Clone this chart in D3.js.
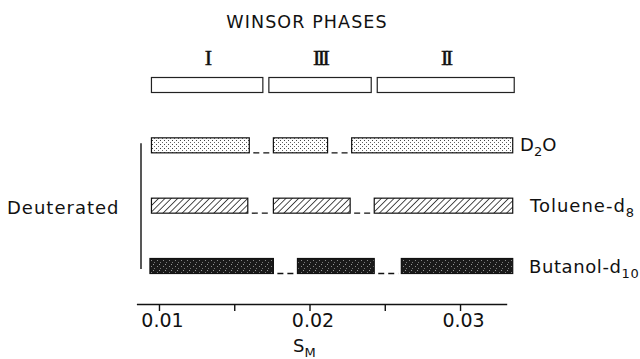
<!DOCTYPE html>
<html>
<head>
<meta charset="utf-8">
<script src="https://cdn.jsdelivr.net/npm/d3@7"></script>
<style>
  body { margin: 0; background: #fff; }
  text { font-family: "DejaVu Sans", sans-serif; fill: #111; }
</style>
</head>
<body>
<svg id="chart"></svg>
<script>
const w = 640;
const h = 359;

// phase boxes (S_M ranges)
const phaseNames = ["I", "III", "II"];
const phaseStart = [0.0095, 0.0173, 0.0245];
const phaseEnd = [0.0169, 0.0241, 0.0336];

// deuterated components and their segments
const rows = ["D2O", "Toluene", "Butanol"];
const d2oSegments = [[0.0095, 0.0160], [0.0176, 0.0212], [0.0228, 0.0335]];
const tolueneSegments = [[0.0095, 0.0159], [0.0176, 0.0227], [0.0243, 0.0335]];
const butanolSegments = [[0.0094, 0.0176], [0.0192, 0.0243], [0.0261, 0.0335]];

const tickValues = [0.01, 0.015, 0.02, 0.025, 0.03];
const tickLabels = ["0.01", "", "0.02", "", "0.03"];

var chart = d3.select("#chart")
  .attr("width", w)
  .attr("height", h);

var defs = chart.append("defs");

// stipple for D2O
var dots = defs.append("pattern")
  .attr("id", "dots")
  .attr("patternUnits", "userSpaceOnUse")
  .attr("width", 4).attr("height", 4);
dots.append("rect").attr("width", 4).attr("height", 4).attr("fill", "#fff");
dots.append("rect").attr("x", 0).attr("y", 0).attr("width", 1).attr("height", 1).attr("fill", "#444");
dots.append("rect").attr("x", 2).attr("y", 2).attr("width", 1).attr("height", 1).attr("fill", "#666");

// hatching for toluene
var hatch = defs.append("pattern")
  .attr("id", "hatch")
  .attr("patternUnits", "userSpaceOnUse")
  .attr("width", 4.5).attr("height", 4.5)
  .attr("patternTransform", "rotate(45)");
hatch.append("rect").attr("width", 4.5).attr("height", 4.5).attr("fill", "#fff");
hatch.append("line")
  .attr("x1", 0).attr("y1", 0).attr("x2", 0).attr("y2", 4.5)
  .attr("stroke", "#222").attr("stroke-width", 1.6);

// dark stipple for butanol
var dark = defs.append("pattern")
  .attr("id", "dark")
  .attr("patternUnits", "userSpaceOnUse")
  .attr("width", 6).attr("height", 6);
dark.append("rect").attr("width", 6).attr("height", 6).attr("fill", "#1a1a1a");
dark.append("rect").attr("x", 1).attr("y", 2).attr("width", 1).attr("height", 1).attr("fill", "#888");
dark.append("rect").attr("x", 4).attr("y", 4).attr("width", 1).attr("height", 1).attr("fill", "#777");
dark.append("rect").attr("x", 3).attr("y", 0).attr("width", 1).attr("height", 1).attr("fill", "#999");

const fills = { D2O: "url(#dots)", Toluene: "url(#hatch)", Butanol: "url(#dark)" };
const segments = { D2O: d2oSegments, Toluene: tolueneSegments, Butanol: butanolSegments };

const xScale = d3.scaleLinear()
  .domain([0.0085, 0.0331])
  .range([136.4, 506.7]);

const yScale = d3.scalePoint()
  .domain(["phases"].concat(rows))
  .range([85, 266]);

const barH = 15;

// title
chart.append("text")
  .attr("x", 307).attr("y", 28)
  .attr("text-anchor", "middle")
  .style("font-size", "17.5px")
  .style("letter-spacing", "1.1px")
  .text("WINSOR PHASES");

// phase boxes
phaseNames.forEach(function(name, i) {
  chart.append("rect")
    .attr("x", xScale(phaseStart[i]))
    .attr("y", yScale("phases") - barH / 2)
    .attr("width", xScale(phaseEnd[i]) - xScale(phaseStart[i]))
    .attr("height", barH)
    .attr("fill", "#fff")
    .attr("stroke", "#222")
    .attr("stroke-width", 1.2);

  chart.append("text")
    .attr("x", (xScale(phaseStart[i]) + xScale(phaseEnd[i])) / 2)
    .attr("y", 65)
    .attr("text-anchor", "middle")
    .style("font-family", "'Liberation Serif', serif")
    .style("font-size", "22px")
    .style("letter-spacing", "-2.6px")
    .style("stroke", "#111")
    .style("stroke-width", "0.5px")
    .text(name);
});

// component rows
rows.forEach(function(r) {
  var segs = segments[r];
  var yc = yScale(r);
  segs.forEach(function(s, i) {
    chart.append("rect")
      .attr("x", xScale(s[0]))
      .attr("y", yc - barH / 2)
      .attr("width", xScale(s[1]) - xScale(s[0]))
      .attr("height", barH)
      .attr("fill", fills[r])
      .attr("stroke", "#111")
      .attr("stroke-width", 1.2);
    if (i < segs.length - 1) {
      chart.append("line")
        .attr("x1", xScale(s[1]) + 4)
        .attr("x2", xScale(segs[i + 1][0]) - 3)
        .attr("y1", yc + barH / 2)
        .attr("y2", yc + barH / 2)
        .attr("stroke", "#111")
        .attr("stroke-width", 1.3)
        .attr("stroke-dasharray", "6,4");
    }
  });
});

// right-hand labels
var lab1 = chart.append("text").attr("x", 520).attr("y", yScale("D2O") + 6).style("font-size", "18px");
lab1.append("tspan").text("D");
lab1.append("tspan").attr("dy", 5).style("font-size", "13px").text("2");
lab1.append("tspan").attr("dy", -5).text("O");

var lab2 = chart.append("text").attr("x", 530).attr("y", yScale("Toluene") + 6)
  .style("font-size", "18px").style("letter-spacing", "1px");
lab2.append("tspan").text("Toluene-d");
lab2.append("tspan").attr("dy", 5).style("font-size", "13px").text("8");

var lab3 = chart.append("text").attr("x", 529).attr("y", yScale("Butanol") + 7)
  .style("font-size", "18px").style("letter-spacing", "0.6px");
lab3.append("tspan").text("Butanol-d");
lab3.append("tspan").attr("dy", 5).style("font-size", "13px").text("10");

// bracket and "Deuterated"
chart.append("line")
  .attr("x1", 141).attr("x2", 141)
  .attr("y1", yScale("D2O") - 2).attr("y2", yScale("Butanol") + 3)
  .attr("stroke", "#111").attr("stroke-width", 1.4);

chart.append("text")
  .attr("x", 7).attr("y", yScale("Toluene") + 8)
  .style("font-size", "18px")
  .style("letter-spacing", "1px")
  .text("Deuterated");

// x axis
const xAxis = d3.axisBottom(xScale)
  .tickValues(tickValues)
  .tickFormat((d, i) => tickLabels[i])
  .tickSize(7)
  .tickSizeOuter(0)
  .tickPadding(3);

var axisG = chart.append("g")
  .attr("transform", "translate(0, 304)")
  .call(xAxis);

axisG.select(".domain").attr("stroke", "#111").attr("stroke-width", 1.5);
axisG.selectAll(".tick line").attr("stroke", "#111").attr("stroke-width", 1.4);
axisG.selectAll(".tick text")
  .attr("x", 3)
  .style("font-family", "'DejaVu Sans', sans-serif")
  .style("font-size", "19px")
  .attr("fill", "#111");

var sm = chart.append("text")
  .attr("x", 293).attr("y", 352)
  .style("font-size", "18px");
sm.append("tspan").text("S");
sm.append("tspan").attr("dy", 5).style("font-size", "13px").text("M");
</script>
</body>
</html>
